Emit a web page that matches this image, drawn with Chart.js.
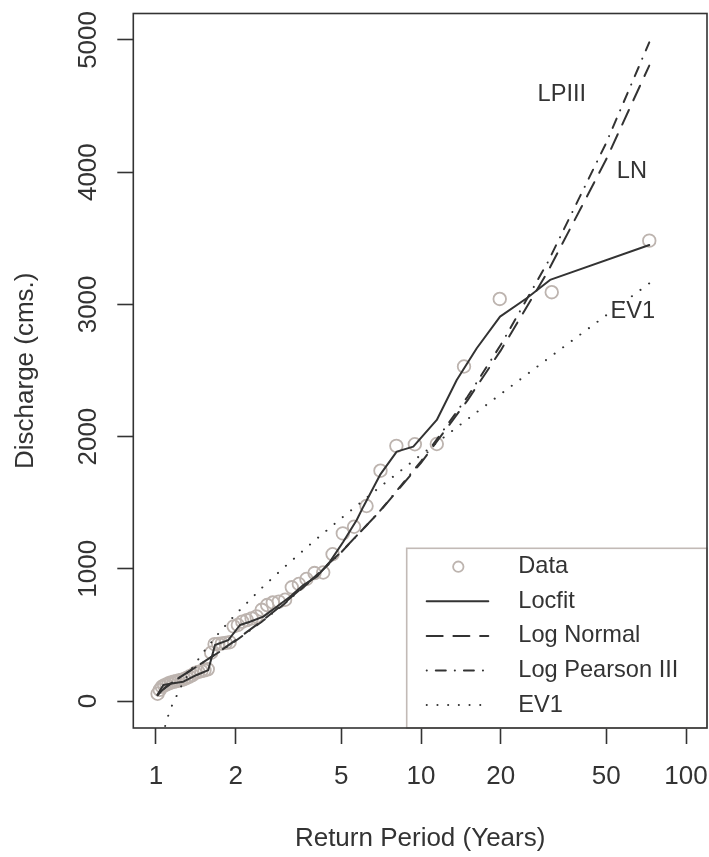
<!DOCTYPE html>
<html lang="en">
<head>
<meta charset="UTF-8">
<title>Return Period vs Discharge</title>
<script src="https://cdn.jsdelivr.net/npm/chart.js@4.4.1/dist/chart.umd.min.js"></script>
<style>
    html, body { margin: 0; padding: 0; background: #fff; }
    #wrap { width: 709px; height: 857px; }
</style>
</head>
<body>
<div id="wrap"><canvas id="freqChart" width="709" height="857"></canvas></div>
<script>
// observed floods: return period (years) and discharge (cms)
var dataT = [72.67, 31.14, 19.82, 14.53, 11.47, 9.478, 8.074, 7.032, 6.229, 5.590,
             5.070, 4.638, 4.275, 3.964, 3.695, 3.460, 3.254, 3.070, 2.907, 2.759,
             2.627, 2.506, 2.396, 2.295, 2.202, 2.117, 2.037, 1.964, 1.896, 1.832,
             1.772, 1.717, 1.664, 1.615, 1.568, 1.524, 1.483, 1.444, 1.406, 1.371,
             1.337, 1.305, 1.275, 1.246, 1.218, 1.191, 1.166, 1.141, 1.118, 1.095,
             1.074, 1.053, 1.033, 1.014];
var dataQ = [3482, 3092, 3041, 2530, 1944, 1942, 1930, 1742, 1475, 1318,
             1268, 1110, 972, 968, 923, 885, 860, 766, 752, 745,
             726, 690, 640, 625, 612, 600, 575, 565, 445, 440,
             435, 432, 430, 365, 240, 232, 226, 220, 212, 196,
             185, 175, 165, 160, 155, 150, 146, 140, 134, 125,
             118, 108, 85, 55];

// locfit curve
var locT = [1.014, 1.066, 1.162, 1.268, 1.424, 1.575, 1.670, 1.874, 2.075, 2.263,
            2.541, 2.855, 3.204, 3.596, 4.041, 4.536, 5.090, 5.720, 6.058, 7.004,
            8.096, 9.352, 11.47, 13.64, 16.23, 19.87, 25.05, 30.68, 72.67];
var locQ = [50, 121, 134, 146, 197, 234, 424, 461, 575, 600,
            638, 713, 789, 877, 940, 1054, 1205, 1369, 1470, 1710,
            1886, 1924, 2126, 2428, 2668, 2907, 3046, 3185, 3449];

// fitted distributions, read at these return periods
var fitT = [1.014, 1.05, 1.1, 1.2, 1.35, 1.5, 1.75, 2, 2.5, 3,
            4, 5, 7, 10, 15, 20, 30, 50, 72.67];
var lnQ  = [44, 78, 111, 165, 232, 291, 380, 461, 603, 729,
            945, 1128, 1435, 1802, 2276, 2652, 3243, 4097, 4806];
var lp3Q = [46, 79, 112, 165, 231, 289, 377, 456, 598, 723,
            940, 1125, 1437, 1813, 2303, 2694, 3314, 4222, 4982];

var ev1T = [1.014, 1.05, 1.1, 1.15, 1.25, 1.35, 1.5, 1.75, 2, 2.5,
            3, 4, 5, 7, 10, 15, 20, 30, 50, 72.67];
var ev1Q = [-507, -289, -136, -32, 119, 231, 363, 529, 657, 853,
            1000, 1220, 1382, 1619, 1862, 2133, 2322, 2587, 2918, 3159];

var xTicks = [1, 2, 5, 10, 20, 50, 100];
var yTicks = [0, 1000, 2000, 3000, 4000, 5000];

// curve names written next to the lines
var noteText = ['LPIII', 'LN', 'EV1'];
var noteT = [34, 62.5, 63];
var noteQ = [4584, 4002, 2943];

var ink = '#333333';
var pointGrey = '#bdb4af';
var fontFamily = '"Liberation Sans", Arial, Helvetica, sans-serif';

function pairs(xs, ys) {
    return xs.map(function (x, i) { return { x: x, y: ys[i] }; });
}

var boxAndLegend = {
    id: 'boxAndLegend',
    afterDatasetsDraw: function (chart) {
        var ctx = chart.ctx;
        var a = chart.chartArea;
        var xs = chart.scales.x, ys = chart.scales.y;
        ctx.save();

        // labels beside the fitted curves
        ctx.fillStyle = ink;
        ctx.font = '23.6px ' + fontFamily;
        ctx.textAlign = 'center';
        ctx.textBaseline = 'middle';
        for (var i = 0; i < noteText.length; i++) {
            ctx.fillText(noteText[i], xs.getPixelForValue(noteT[i]), ys.getPixelForValue(noteQ[i]));
        }

        // legend, bottom right
        var lw = 300.3, lh = 179.7;
        var lx = a.right - lw, ly = a.bottom - lh;
        ctx.fillStyle = '#ffffff';
        ctx.fillRect(lx, ly, lw, lh);
        ctx.strokeStyle = '#c2bab6';
        ctx.lineWidth = 1.6;
        ctx.strokeRect(lx, ly, lw, lh);

        chart.data.datasets.forEach(function (ds, k) {
            var y = ly + 18.4 + k * 34.6;
            ctx.save();
            if (ds.showLine === false) {
                ctx.strokeStyle = ds.pointBorderColor;
                ctx.lineWidth = ds.pointBorderWidth;
                ctx.beginPath();
                ctx.arc(lx + 51.6, y, 5.2, 0, Math.PI * 2);
                ctx.stroke();
            } else {
                ctx.strokeStyle = ds.borderColor;
                ctx.lineWidth = ds.borderWidth;
                ctx.lineCap = ds.borderCapStyle || 'butt';
                ctx.setLineDash(ds.borderDash || []);
                ctx.beginPath();
                ctx.moveTo(lx + 20, y);
                ctx.lineTo(lx + 81.6, y);
                ctx.stroke();
            }
            ctx.restore();
            ctx.fillStyle = ink;
            ctx.font = '23.6px ' + fontFamily;
            ctx.textAlign = 'left';
            ctx.textBaseline = 'middle';
            ctx.fillText(ds.label, lx + 111.6, y);
        });

        // plot frame
        ctx.strokeStyle = ink;
        ctx.lineWidth = 1.6;
        ctx.strokeRect(a.left, a.top, a.right - a.left, a.bottom - a.top);
        ctx.restore();
    }
};

var ctx = document.getElementById('freqChart').getContext('2d');
var freqChart = new Chart(ctx, {
    type: 'scatter',
    data: {
        datasets: [
            {
                label: 'Data',
                data: pairs(dataT, dataQ),
                showLine: false,
                order: 10,
                pointStyle: 'circle',
                pointRadius: 6.3,
                pointBorderWidth: 1.8,
                pointBorderColor: pointGrey,
                pointBackgroundColor: 'rgba(0,0,0,0)',
                borderColor: pointGrey,
                backgroundColor: 'rgba(0,0,0,0)'
            },
            {
                label: 'Locfit',
                data: pairs(locT, locQ),
                showLine: true,
                pointRadius: 0,
                borderColor: ink,
                borderWidth: 2,
                borderCapStyle: 'round',
                borderJoinStyle: 'round'
            },
            {
                label: 'Log Normal',
                data: pairs(fitT, lnQ),
                showLine: true,
                pointRadius: 0,
                borderColor: ink,
                borderWidth: 2,
                borderCapStyle: 'round',
                borderDash: [16, 10.7]
            },
            {
                label: 'Log Pearson III',
                data: pairs(fitT, lp3Q),
                showLine: true,
                pointRadius: 0,
                borderColor: ink,
                borderWidth: 2,
                borderCapStyle: 'round',
                borderDash: [0.1, 9, 10, 9]
            },
            {
                label: 'EV1',
                data: pairs(ev1T, ev1Q),
                showLine: true,
                pointRadius: 0,
                borderColor: ink,
                borderWidth: 2,
                borderCapStyle: 'round',
                borderDash: [0.1, 10.6]
            }
        ]
    },
    options: {
        responsive: false,
        animation: false,
        devicePixelRatio: 1,
        events: [],
        layout: {
            autoPadding: false,
            padding: { left: 0, top: 13.5, right: 2, bottom: 0 }
        },
        plugins: {
            legend: { display: false },
            tooltip: { enabled: false }
        },
        scales: {
            x: {
                type: 'logarithmic',
                position: 'bottom',
                min: 0.821,
                max: 120,
                afterBuildTicks: function (s) {
                    s.ticks = xTicks.map(function (v) { return { value: v }; });
                },
                afterFit: function (s) {
                    s.height = 129;
                    s.paddingLeft = 0;
                    s.paddingRight = 0;
                },
                ticks: {
                    autoSkip: false,
                    maxRotation: 0,
                    padding: 0,
                    color: ink,
                    font: { family: fontFamily, size: 26, lineHeight: 2.515 },
                    callback: function (v) { return String(v); }
                },
                grid: {
                    display: true,
                    drawOnChartArea: false,
                    drawTicks: true,
                    tickLength: 16,
                    tickColor: ink,
                    tickWidth: 1.6
                },
                border: { display: false },
                title: {
                    display: true,
                    text: 'Return Period (Years)',
                    color: ink,
                    font: { family: fontFamily, size: 26 },
                    padding: { top: 0, bottom: 2.4 }
                }
            },
            y: {
                type: 'linear',
                position: 'left',
                min: -204,
                max: 5200,
                afterBuildTicks: function (s) {
                    s.ticks = yTicks.map(function (v) { return { value: v }; });
                },
                afterFit: function (s) {
                    s.width = 133.3;
                    s.paddingTop = 0;
                    s.paddingBottom = 0;
                },
                ticks: {
                    minRotation: 90,
                    maxRotation: 90,
                    crossAlign: 'center',
                    padding: 0,
                    color: ink,
                    font: { family: fontFamily, size: 26, lineHeight: 1 },
                    callback: function (v) { return String(v); }
                },
                grid: {
                    display: true,
                    drawOnChartArea: false,
                    drawTicks: true,
                    tickLength: 16,
                    tickColor: ink,
                    tickWidth: 1.6
                },
                border: { display: false },
                title: {
                    display: true,
                    text: 'Discharge (cms.)',
                    color: ink,
                    font: { family: fontFamily, size: 26 },
                    padding: { top: 10, bottom: 0 }
                }
            }
        }
    },
    plugins: [boxAndLegend]
});
</script>
</body>
</html>
